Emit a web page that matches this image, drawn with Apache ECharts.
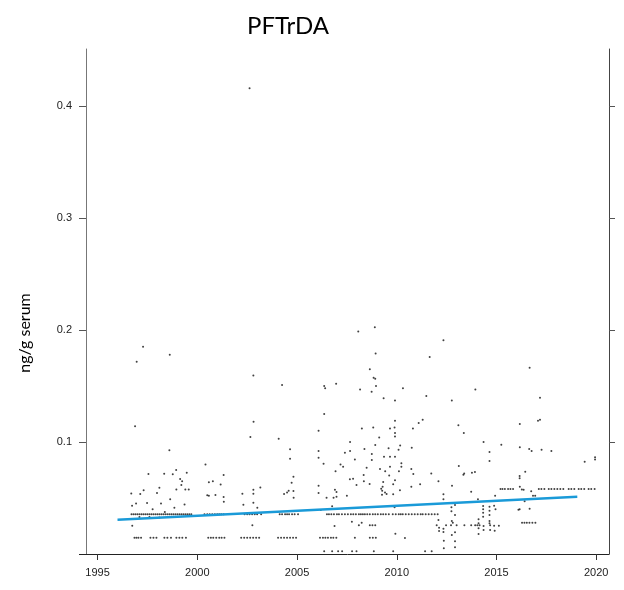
<!DOCTYPE html>
<html>
<head>
<meta charset="utf-8">
<title>PFTrDA</title>
<script src="https://cdn.jsdelivr.net/npm/echarts@6/dist/echarts.min.js"></script>
<style>
  html, body { margin: 0; padding: 0; background: #fff; }
  #chart { width: 624px; height: 590px; }
</style>
</head>
<body>
<div id="chart"></div>
<script>
// axis ticks
const xTickValues = [1995, 2000, 2005, 2010, 2015, 2020];
const yTickValues = [0.1, 0.2, 0.3, 0.4];

// individual samples [year, ng/g serum]
const samplePoints = [
  [2002.62, 0.416],
  [2008.07, 0.1988], [1997.28, 0.185], [1996.96, 0.1717], [1998.62, 0.178], [1996.88, 0.114],
  [2002.81, 0.1595], [2004.25, 0.151], [2006.36, 0.150], [2006.41, 0.148], [2006.96, 0.152],
  [2008.16, 0.147], [2006.36, 0.125], [2002.82, 0.118], [2002.66, 0.1045], [2004.08, 0.103],
  [2006.08, 0.110], [1998.6, 0.0926], [2004.65, 0.0935], [2004.65, 0.085], [2006.08, 0.092],
  [2006.08, 0.086], [2006.33, 0.0806], [2007.66, 0.100], [2007.66, 0.092], [2007.4, 0.0905],
  [2007.9, 0.0845], [2007.18, 0.080], [2007.31, 0.078], [2006.93, 0.074], [2000.41, 0.080],
  [1998.94, 0.075], [1997.55, 0.0714], [1998.34, 0.0717], [1998.77, 0.0712], [1999.47, 0.0726],
  [1999.14, 0.067], [1999.24, 0.065], [1999.2, 0.0616], [1998.95, 0.0577], [1999.4, 0.0577],
  [1999.57, 0.0577], [1996.69, 0.054], [1997.14, 0.0536], [1997.31, 0.0569], [1997.98, 0.0545],
  [1998.1, 0.0592], [1998.64, 0.049], [1996.73, 0.043], [1996.93, 0.045], [1997.48, 0.0455],
  [1998.18, 0.0452], [1997.76, 0.040], [1998.37, 0.0375], [1998.85, 0.0414], [1999.36, 0.0443],
  [1996.74, 0.0253], [2000.78, 0.065], [2000.58, 0.064], [2001.32, 0.0705], [2001.17, 0.062],
  [2000.5, 0.0524], [2000.58, 0.052], [2000.91, 0.0527], [2001.32, 0.051], [2001.33, 0.0467],
  [2002.26, 0.0539], [2002.81, 0.0574], [2002.81, 0.0539], [2003.16, 0.0595], [2002.31, 0.044],
  [2002.81, 0.0458], [2003.01, 0.0414], [2002.76, 0.0256], [2004.82, 0.069], [2004.73, 0.0637],
  [2004.35, 0.0536], [2004.5, 0.055], [2004.58, 0.0565], [2004.82, 0.0563], [2004.83, 0.0503],
  [2006.08, 0.061], [2006.08, 0.0545], [2006.48, 0.0503], [2006.76, 0.0426], [2006.83, 0.0503],
  [2006.98, 0.0512], [2006.9, 0.0574], [2006.98, 0.0554], [2007.5, 0.052], [2007.65, 0.0667],
  [2007.81, 0.0672], [2007.98, 0.0616], [2006.19, 0.0393], [2006.88, 0.025], [2007.75, 0.0289],
  [1997.1, 0.033], [1997.6, 0.033], [1998.1, 0.0327],
  [2008.9, 0.2024], [2012.34, 0.191], [2008.94, 0.179], [2011.65, 0.176], [2008.65, 0.165],
  [2008.84, 0.1575], [2008.92, 0.1566], [2016.66, 0.1664], [2008.96, 0.150], [2008.74, 0.145],
  [2010.31, 0.148], [2009.34, 0.139], [2009.91, 0.137], [2011.48, 0.141], [2012.76, 0.137],
  [2013.94, 0.147], [2017.18, 0.1396], [2011.3, 0.12], [2011.1, 0.117], [2009.91, 0.119],
  [2017.08, 0.119], [2017.18, 0.12], [2008.25, 0.112], [2008.82, 0.113], [2009.66, 0.112],
  [2009.89, 0.113], [2010.81, 0.112], [2009.91, 0.108], [2009.91, 0.105], [2009.12, 0.104],
  [2013.09, 0.115], [2013.36, 0.108], [2016.17, 0.116], [2008.92, 0.0973], [2010.17, 0.097],
  [2010.09, 0.093], [2009.59, 0.0944], [2008.38, 0.0938], [2010.75, 0.095], [2014.35, 0.100],
  [2015.24, 0.0976], [2014.65, 0.091], [2016.17, 0.0953], [2016.64, 0.0938], [2016.76, 0.092],
  [2017.26, 0.093], [2017.75, 0.092], [2008.75, 0.0893], [2008.75, 0.0839], [2009.36, 0.0869],
  [2009.66, 0.0869], [2009.91, 0.0869], [2010.23, 0.081], [2010.23, 0.078], [2009.66, 0.078],
  [2009.16, 0.076], [2008.49, 0.077], [2009.42, 0.074], [2010.11, 0.0738], [2010.73, 0.076],
  [2010.83, 0.0714], [2009.62, 0.0702], [2008.34, 0.0705], [2011.73, 0.072], [2013.11, 0.0786],
  [2013.38, 0.072], [2013.34, 0.0708], [2013.77, 0.0726], [2013.92, 0.0732], [2014.65, 0.083],
  [2016.16, 0.0696], [2016.16, 0.0676], [2016.44, 0.0735], [2019.42, 0.0824], [2019.94, 0.0863],
  [2019.94, 0.0845], [2008.35, 0.065], [2008.64, 0.0625], [2009.32, 0.0643], [2009.29, 0.060],
  [2009.91, 0.0658], [2009.82, 0.0622], [2009.22, 0.0583], [2009.27, 0.0565], [2009.41, 0.055],
  [2009.49, 0.0536], [2009.26, 0.053], [2009.82, 0.0533], [2010.16, 0.0569], [2010.73, 0.060],
  [2011.17, 0.0622], [2012.09, 0.065], [2012.77, 0.061], [2013.73, 0.0557], [2012.34, 0.0533],
  [2012.34, 0.0488], [2014.93, 0.052], [2014.07, 0.0488], [2016.17, 0.060], [2016.27, 0.0577],
  [2016.36, 0.0574], [2016.74, 0.056], [2016.83, 0.052], [2016.94, 0.052], [2016.41, 0.047],
  [2016.16, 0.040], [2016.1, 0.0396], [2016.66, 0.0405], [2009.89, 0.0417], [2012.74, 0.0417],
  [2012.74, 0.0381], [2012.92, 0.0348], [2012.92, 0.0438], [2014.33, 0.0429], [2014.33, 0.040],
  [2014.33, 0.0369], [2014.33, 0.0333], [2014.65, 0.0423], [2014.65, 0.0387], [2014.65, 0.0348],
  [2014.88, 0.043], [2014.95, 0.040], [2012.09, 0.0304], [2012.12, 0.0235], [2012.12, 0.0205],
  [2012.34, 0.0226], [2012.34, 0.0196], [2012.76, 0.0295], [2012.81, 0.028], [2012.92, 0.0194],
  [2014.1, 0.031], [2014.1, 0.0274], [2014.1, 0.023], [2014.1, 0.0179], [2014.35, 0.025],
  [2014.35, 0.0214], [2014.68, 0.0214], [2014.65, 0.0295], [2014.65, 0.0274], [2014.88, 0.0253],
  [2014.91, 0.0208], [2015.12, 0.0253], [2012.36, 0.0119], [2012.36, 0.0051], [2012.76, 0.017],
  [2012.92, 0.0113], [2012.92, 0.006], [2009.93, 0.018], [2010.41, 0.0143], [2008.24, 0.028],
  [2008.1, 0.0256]
];

// repeated values (rows of dots) - years for each level
const row0355Years = [
  1996.7, 1996.8, 1996.9, 1997.0, 1997.1, 1997.2, 1997.3, 1997.4, 1997.5, 1997.6, 1997.7,
  1997.8, 1997.9, 1998.0, 1998.1, 1998.2, 1998.3, 1998.4, 1998.5, 1998.6, 1998.7, 1998.8,
  1998.9, 1999.0, 1999.1, 1999.2, 1999.3, 1999.4, 1999.5, 1999.6, 1999.7,
  2000.36, 2000.5, 2000.62, 2000.75, 2000.88, 2001.0, 2001.1, 2001.2, 2001.32,
  2002.37, 2002.5, 2002.62, 2002.75, 2002.88, 2003.0, 2003.2,
  2004.13, 2004.25, 2004.4, 2004.5, 2004.6, 2004.75, 2004.88, 2005.05,
  2006.5, 2006.6, 2006.72, 2006.85, 2007.0, 2007.1, 2007.25, 2007.4, 2007.55, 2007.7, 2007.82,
  2007.95, 2008.1, 2008.2, 2008.3, 2008.4, 2008.52, 2008.65, 2008.8, 2008.92, 2009.05, 2009.2,
  2009.32, 2009.45, 2009.6, 2009.8, 2009.95, 2010.1, 2010.2, 2010.3, 2010.45, 2010.6, 2010.75,
  2010.9, 2011.05, 2011.2, 2011.3, 2011.45, 2011.6, 2011.75, 2011.9, 2012.05
];
const row0146Years = [
  1996.85, 1996.95, 1997.05, 1997.18, 1997.65, 1997.8, 1997.95, 1998.35, 1998.5, 1998.68,
  1998.95, 1999.1, 1999.25, 1999.43, 2000.55, 2000.68, 2000.8, 2000.95, 2001.1, 2001.22, 2001.36,
  2002.2, 2002.35, 2002.5, 2002.65, 2002.8, 2002.95, 2003.1, 2004.05, 2004.2, 2004.35, 2004.5,
  2004.65, 2004.8, 2004.95, 2006.15, 2006.3, 2006.42, 2006.55, 2006.7, 2006.82, 2006.97,
  2007.9, 2008.65, 2008.8, 2008.95
];
const row0024Years = [2006.36, 2006.76, 2007.06, 2007.26, 2007.76, 2007.98, 2008.85, 2009.82, 2011.42, 2011.75];
const row0256Years = [2008.65, 2008.78, 2008.92, 2012.0, 2012.47, 2012.72, 2013.0, 2013.39, 2013.73, 2013.93, 2014.04, 2014.15, 2014.68];
const row0580Years = [
  2015.2, 2015.3, 2015.42, 2015.58, 2015.7, 2015.83, 2017.12, 2017.25, 2017.4, 2017.62, 2017.75,
  2017.9, 2018.05, 2018.2, 2018.35, 2018.62, 2018.75, 2018.9, 2019.12, 2019.25, 2019.4, 2019.62,
  2019.75, 2019.92
];
const row0280Years = [2016.28, 2016.4, 2016.52, 2016.65, 2016.8, 2016.95];

// trend line
const trendYears = [1996.0, 2019.05];
const trendValues = [0.0306, 0.0512];

const rows = [
  [row0355Years, 0.0355],
  [row0146Years, 0.0146],
  [row0024Years, 0.0024],
  [row0256Years, 0.0256],
  [row0580Years, 0.058],
  [row0280Years, 0.028]
];

let scatterData = samplePoints.slice();
rows.forEach(([years, v]) => {
  years.forEach((yr) => scatterData.push([yr, v]));
});
const trendData = trendYears.map((yr, i) => [yr, trendValues[i]]);

const chart = echarts.init(document.getElementById("chart"));
const tickFont = "'Liberation Sans', Arial, sans-serif";
const option = {
  animation: false,
  backgroundColor: "#fff",
  title: {
    text: "PFTrDA",
    left: 283,
    top: 9,
    textAlign: "center",
    textStyle: { fontFamily: "Lato, sans-serif", fontSize: 24, fontWeight: "normal", color: "#000" },
  },
  grid: { left: 86, right: 15, top: 49, bottom: 36 },
  xAxis: {
    type: "value",
    min: 1994.42,
    max: 2020.64,
    axisLine: { show: true, onZero: false, lineStyle: { color: "#222", width: 1 } },
    axisTick: { show: true, length: 6, customValues: xTickValues, lineStyle: { color: "#333" } },
    axisLabel: {
      customValues: xTickValues,
      formatter: (v) => String(v),
      margin: 13,
      fontSize: 11,
      color: "#222",
      fontFamily: tickFont,
    },
    splitLine: { show: false },
  },
  yAxis: [
    {
      type: "value",
      min: 0,
      max: 0.451,
      axisLine: { show: true, lineStyle: { color: "#777", width: 1 } },
      axisTick: { show: true, length: 7, customValues: yTickValues, lineStyle: { color: "#555" } },
      axisLabel: { customValues: yTickValues, margin: 14, fontSize: 11, color: "#222", fontFamily: tickFont },
      splitLine: { show: false },
    },
    {
      type: "value",
      position: "right",
      min: 0,
      max: 0.451,
      axisLine: { show: true, lineStyle: { color: "#444", width: 1 } },
      axisTick: { show: true, length: 6, customValues: yTickValues, lineStyle: { color: "#555" } },
      axisLabel: { show: false },
      splitLine: { show: false },
    },
  ],
  graphic: [
    {
      type: "text",
      x: 25,
      y: 333,
      rotation: Math.PI / 2,
      style: {
        text: "ng/g serum",
        font: "16px Lato, sans-serif",
        fill: "#000",
        align: "center",
        verticalAlign: "middle",
      },
    },
    {
      type: "line",
      shape: { x1: 79, y1: 554.5, x2: 87, y2: 554.5 },
      style: { stroke: "#222", lineWidth: 1 },
    },
  ],
  series: [
    {
      type: "scatter",
      data: scatterData,
      symbol: "circle",
      symbolSize: 2,
      itemStyle: { color: "#111" },
      silent: true,
    },
    {
      type: "line",
      data: trendData,
      showSymbol: false,
      lineStyle: { color: "#1a9ad8", width: 2.5 },
      z: 5,
      silent: true,
    },
  ],
};
chart.setOption(option);
</script>
</body>
</html>
